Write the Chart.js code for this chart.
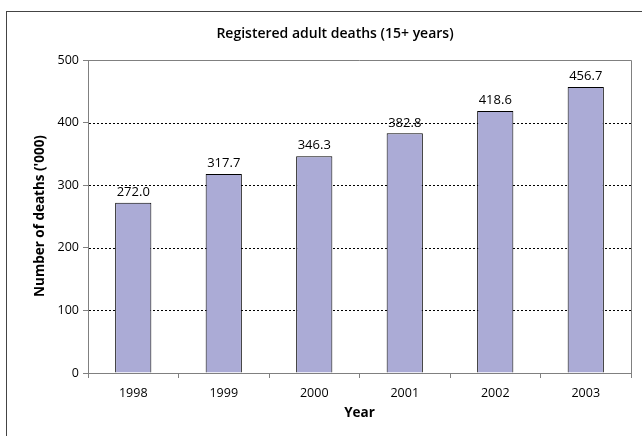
<!DOCTYPE html>
<html>
<head>
<meta charset="utf-8">
<script src="https://cdn.jsdelivr.net/npm/chart.js@4"></script>
<style>
    body { margin: 0; background: #fff; }
    canvas { display: block; }
</style>
</head>
<body>
<canvas id="deathsChart" width="642" height="436"></canvas>
<script>
const years = ['1998', '1999', '2000', '2001', '2002', '2003'];
const deaths = [272.0, 317.7, 346.3, 382.8, 418.6, 456.7];
const yTicks = [0, 100, 200, 300, 400, 500];

const chartTitle = 'Registered adult deaths (15+ years)';
const yTitle = "Number of deaths ('000)";
const xTitle = 'Year';

const fontName = '"Open Sans", "DejaVu Sans", sans-serif';

// frame, dotted grid, plot border, titles and bar values
const decorations = {
    id: 'decorations',
    beforeDraw(chart) {
        const ctx = chart.ctx;
        ctx.save();
        ctx.fillStyle = '#fff';
        ctx.fillRect(0, 0, chart.width, chart.height);
        ctx.strokeStyle = '#444';
        ctx.lineWidth = 1;
        ctx.strokeRect(6.5, 11.5, 700, 500);
        ctx.restore();
    },
    beforeDatasetsDraw(chart) {
        const ctx = chart.ctx;
        const area = chart.chartArea;
        const y = chart.scales.y;
        ctx.save();
        ctx.strokeStyle = '#000';
        ctx.lineWidth = 1;
        ctx.setLineDash([2, 2]);
        yTicks.forEach(v => {
            if (v <= y.min || v >= y.max) return;
            const py = Math.round(y.getPixelForValue(v)) + 0.5;
            ctx.beginPath();
            ctx.moveTo(area.left + 1, py);
            ctx.lineTo(area.right, py);
            ctx.stroke();
        });
        ctx.restore();
    },
    afterDraw(chart) {
        const ctx = chart.ctx;
        const area = chart.chartArea;
        ctx.save();

        // plot border top and right
        ctx.strokeStyle = '#808080';
        ctx.lineWidth = 1;
        ctx.beginPath();
        ctx.moveTo(area.left, Math.round(area.top) + 0.5);
        ctx.lineTo(Math.round(area.right) + 0.5, Math.round(area.top) + 0.5);
        ctx.lineTo(Math.round(area.right) + 0.5, area.bottom);
        ctx.stroke();

        ctx.fillStyle = '#000';
        ctx.textAlign = 'center';
        ctx.textBaseline = 'middle';

        ctx.font = '600 14px ' + fontName;
        ctx.fillText(chartTitle, 335, 34);

        ctx.font = 'bold 13.5px ' + fontName;
        ctx.fillText(xTitle, (area.left + area.right) / 2, 413);

        ctx.save();
        ctx.translate(40, 216);
        ctx.rotate(-Math.PI / 2);
        ctx.fillText(yTitle, 0, 0);
        ctx.restore();

        // value labels above bars
        ctx.font = '13px ' + fontName;
        ctx.textBaseline = 'bottom';
        const meta = chart.getDatasetMeta(0);
        meta.data.forEach((bar, i) => {
            ctx.fillText(deaths[i].toFixed(1), bar.x, bar.y - 4);
        });

        ctx.restore();
    }
};

new Chart(document.getElementById('deathsChart').getContext('2d'), {
    type: 'bar',
    data: {
        labels: years,
        datasets: [{
            label: 'Registered adult deaths',
            data: deaths,
            backgroundColor: '#ababd6',
            borderColor: '#000',
            borderWidth: 1,
            categoryPercentage: 1,
            barPercentage: 0.4
        }]
    },
    options: {
        responsive: false,
        animation: false,
        devicePixelRatio: 1,
        layout: {
            padding: { top: 60, right: 11, bottom: 0, left: 0 }
        },
        plugins: {
            legend: { display: false },
            tooltip: { enabled: false }
        },
        scales: {
            x: {
                afterFit: scale => { scale.height = 63; },
                grid: {
                    offset: true,
                    drawOnChartArea: false,
                    color: '#808080',
                    tickLength: 5
                },
                border: { color: '#808080', width: 1 },
                ticks: {
                    color: '#000',
                    padding: 8,
                    font: { family: fontName, size: 12.5 }
                }
            },
            y: {
                min: 0,
                max: 500,
                afterFit: scale => { scale.width = 88; },
                afterBuildTicks: scale => {
                    scale.ticks = yTicks.map(v => ({ value: v }));
                },
                grid: {
                    drawOnChartArea: false,
                    color: '#808080',
                    tickLength: 5
                },
                border: { color: '#808080', width: 1 },
                ticks: {
                    color: '#000',
                    padding: 4,
                    font: { family: fontName, size: 12.5 }
                }
            }
        }
    },
    plugins: [decorations]
});
</script>
</body>
</html>
